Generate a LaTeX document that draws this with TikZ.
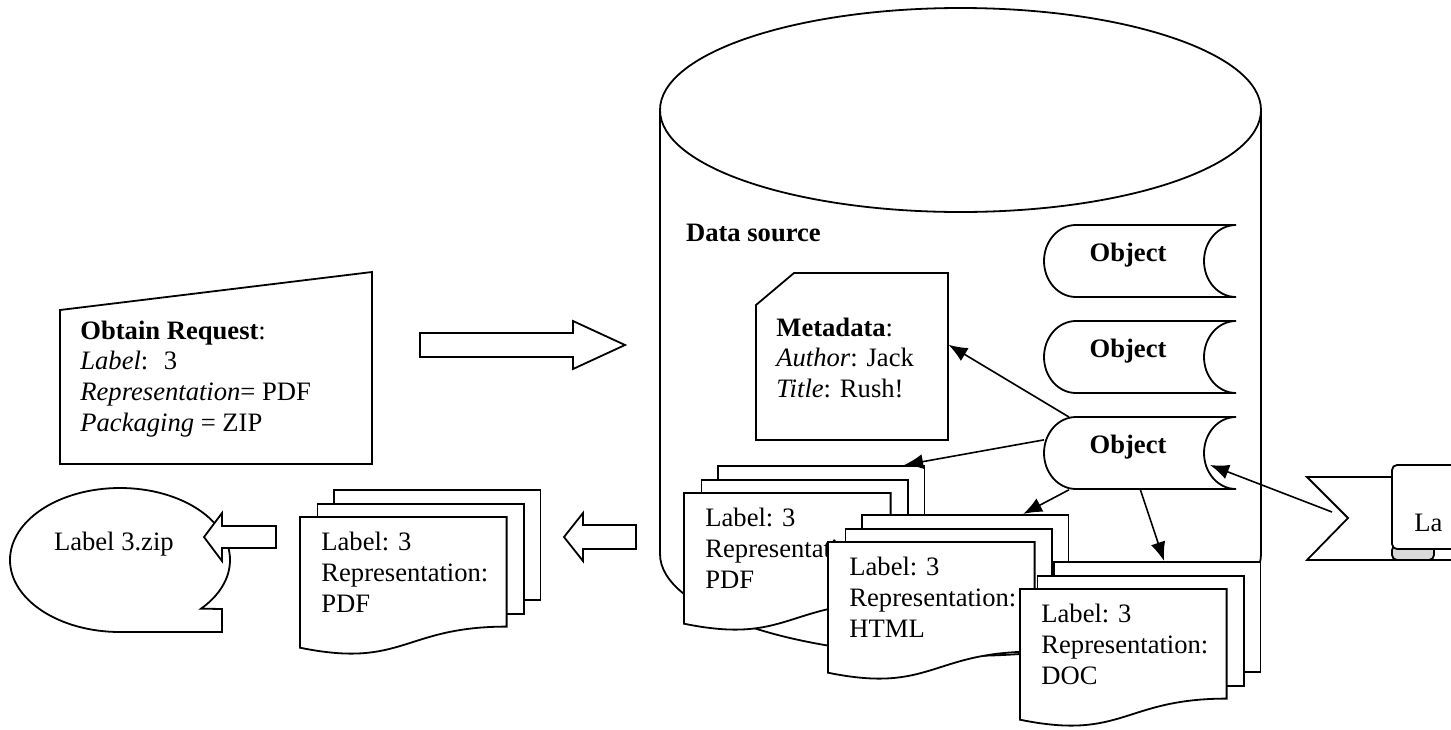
\documentclass[tikz,border=0pt]{standalone}
\usepackage{fontspec}
\setmainfont{Liberation Serif}
\usetikzlibrary{arrows.meta}

% stored data shape (192 x 72) with its label
\newcommand{\storedobj}[2]{% #1 name, #2 top left corner
  \node[objarea, anchor=north west] (#1) at (#2) {};
  \begin{scope}[shift={(#2)}]
    \draw[shapeline, fill=white] (32,0) -- (192,0)
      .. controls (174.3,0) and (160,16.1) .. (160,36)
      .. controls (160,55.9) and (174.3,72) .. (192,72)
      -- (32,72)
      .. controls (14.3,72) and (0,55.9) .. (0,36)
      .. controls (0,16.1) and (14.3,0) .. (32,0) -- cycle;
    \node[anchor=base] (#1-text) at (84,36) {\textbf{Object}};
    \coordinate (#1-notch) at (166,48);
  \end{scope}}

% stack of three documents (240 x 165)
\newcommand{\docstack}[3]{% #1 name, #2 top left corner, #3 text
  \begin{scope}[shift={(#2)}]
    \foreach \k in {2,1}
      \node[docpage] (#1-\k) at (16.5*\k, 28-14*\k) {};
    \draw[shapeline, fill=white] (0,28) -- (206.6,28) -- (206.6,137.6)
      .. controls (103.3,137.6) and (103.3,179.8) .. (0,158.7) -- cycle;
    \node[textblock] (#1) at (21,43) {#3};
  \end{scope}}

\begin{document}
\begin{tikzpicture}[
x=0.5pt, y=-0.5pt,
font=\fontsize{13.3}{15.3}\selectfont,
shapeline/.style={line width=0.9pt, line join=miter},
conn/.style={line width=0.8pt, -{Latex[length=9.5pt, width=7.5pt]}},
textblock/.style={anchor=north west, align=left, inner sep=0pt},
region/.style={inner sep=0pt},
objarea/.style={region, minimum width=96pt, minimum height=36pt},
docpage/.style={shapeline, draw, fill=white, anchor=north west, inner sep=0pt,
  minimum width=103.3pt, minimum height=55pt}
]
\useasboundingbox (0,0) rectangle (1451,729);
\clip (0,0) rectangle (1451,729);

%Request
\draw[shapeline] (60,310) -- (372,272) -- (372,464) -- (60,464) -- cycle;
\node[textblock] (request) at (80,320.5)
  {\textbf{Obtain Request}:\\ \textit{Label}:~ 3\\ \textit{Representation}= PDF\\ \textit{Packaging} = ZIP};
\draw[shapeline, fill=white] (420,333) -- (573,333) -- (573,321) -- (625,345)
  -- (573,369) -- (573,357) -- (420,357) -- cycle;

%Data source
\draw[shapeline, fill=white] (660,110) -- (660,554)
  arc[start angle=180, end angle=0, x radius=300.5, y radius=102] -- (1261,110);
\draw[shapeline] (960.5,110) ellipse[x radius=300.5, y radius=102];
\node[anchor=base west] (dstitle) at (679,241) {\textbf{Data source}};

%Objects
\storedobj{obj1}{1044,225}
\storedobj{obj2}{1044,321}
\storedobj{obj3}{1044,417}

%Metadata
\draw[shapeline] (794,273) -- (948,273) -- (948,440) -- (756,440) -- (756,305) -- cycle;
\node[region, minimum width=96pt, minimum height=83.5pt] (meta) at (852,356.5) {};
\node[textblock] (metatext) at (776,317.5)
  {\textbf{Metadata}:\\ \textit{Author}: Jack\\ \textit{Title}: Rush!};

%Representations
\docstack{pdfin}{684,465}{Label: 3\\Representation:\\PDF}
\docstack{html}{828,514}{Label: 3\\Representation:\\HTML}
\docstack{doc}{1020,561}{Label: 3\\Representation:\\DOC}

%Result
\docstack{pdfout}{300,489}{Label: 3\\Representation:\\PDF}
\draw[shapeline, fill=white] (636,525) -- (583,525) -- (583,513) -- (564,537)
  -- (583,561) -- (583,549) -- (636,549) -- cycle;
\draw[shapeline] (222,632) -- (120,632)
  arc[start angle=90, end angle=402.5, x radius=110, y radius=72] -- (222,609) -- cycle;
\node[anchor=base west] (zip) at (47,550) {Label 3.zip};
\draw[shapeline, fill=white] (276,526) -- (222,526) -- (222,513) -- (204,537)
  -- (222,561) -- (222,548) -- (276,548) -- cycle;

%Label flag
\draw[shapeline, fill=white] (1307,477) -- (1470,477) -- (1470,560) -- (1307,560) -- (1348,518) -- cycle;
\draw[shapeline, fill=gray!30, rounded corners=2.5pt] (1392,545) rectangle (1434,560);
\draw[shapeline, fill=white, rounded corners=2.5pt] (1470,549) -- (1392,549) -- (1392,465) -- (1470,465);
\node[anchor=base west, inner sep=0pt] (flag) at (1414,531) {La};
\coordinate (flagtail) at (1332,512);

%Lines
\draw[conn] (obj3.153) -- (meta.7);
\draw[conn] (obj3.172) -- (pdfin-2.34);
\draw[conn] (obj3.207) -- (html-2.44);
\draw[conn] (obj3.south) -- (doc-2.83);
\draw[conn] (flagtail) -- (obj3-notch);
\end{tikzpicture}
\end{document}
